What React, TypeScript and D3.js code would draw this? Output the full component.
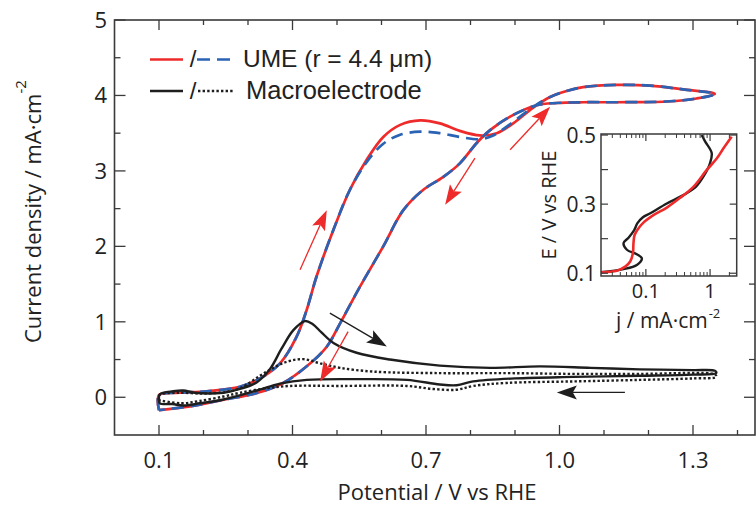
import React from 'react';
import * as d3 from 'd3';

const W = 756;
const H = 506;

// ---------- data (V vs RHE, mA/cm^2) ----------
const umeSolid: [number, number][] = [
  [0.100, -0.17], [0.100, 0.03], [0.147, 0.06], [0.207, 0.08], [0.282, 0.14], [0.327, 0.25],
  [0.372, 0.45], [0.409, 0.80], [0.432, 1.16], [0.454, 1.60], [0.492, 2.22], [0.529, 2.75],
  [0.567, 3.15], [0.604, 3.45], [0.642, 3.61], [0.687, 3.67], [0.731, 3.63], [0.776, 3.53],
  [0.821, 3.47], [0.859, 3.50], [0.896, 3.63], [0.941, 3.84], [0.979, 3.98], [1.016, 4.06],
  [1.053, 4.11], [1.128, 4.14], [1.203, 4.13], [1.278, 4.08], [1.349, 4.02],
  [1.308, 3.96], [1.241, 3.92], [1.128, 3.91], [1.053, 3.91], [0.994, 3.90], [0.949, 3.87],
  [0.889, 3.72], [0.844, 3.54], [0.814, 3.37], [0.776, 3.10], [0.739, 2.92], [0.694, 2.75],
  [0.649, 2.48], [0.604, 2.00], [0.552, 1.47], [0.507, 0.98], [0.477, 0.67], [0.432, 0.41],
  [0.379, 0.19], [0.320, 0.056], [0.245, -0.033], [0.170, -0.12], [0.100, -0.17],
];

const umeDashed: [number, number][] = [
  [0.100, -0.17], [0.100, 0.03], [0.147, 0.06], [0.207, 0.08], [0.282, 0.14], [0.327, 0.25],
  [0.372, 0.45], [0.409, 0.80], [0.432, 1.16], [0.454, 1.60], [0.492, 2.22], [0.529, 2.75],
  [0.567, 3.12], [0.604, 3.36], [0.642, 3.48], [0.687, 3.52], [0.731, 3.50], [0.776, 3.45],
  [0.821, 3.42], [0.851, 3.47], [0.896, 3.65], [0.941, 3.85], [0.979, 3.98], [1.016, 4.06],
  [1.053, 4.11], [1.128, 4.14], [1.203, 4.13], [1.278, 4.08], [1.349, 4.02],
  [1.308, 3.96], [1.241, 3.92], [1.128, 3.91], [1.053, 3.91], [0.994, 3.90], [0.949, 3.87],
  [0.889, 3.72], [0.844, 3.54], [0.814, 3.37], [0.776, 3.10], [0.739, 2.92], [0.694, 2.75],
  [0.649, 2.48], [0.604, 2.00], [0.552, 1.47], [0.507, 0.98], [0.477, 0.67], [0.432, 0.41],
  [0.379, 0.19], [0.320, 0.056], [0.245, -0.033], [0.170, -0.12], [0.100, -0.17],
];

const macroSolid: [number, number][] = [
  [0.100, -0.03], [0.102, 0.04], [0.132, 0.08], [0.155, 0.09], [0.180, 0.06], [0.245, 0.06],
  [0.282, 0.11], [0.320, 0.20], [0.350, 0.38], [0.375, 0.64], [0.402, 0.89], [0.428, 1.01],
  [0.445, 0.97], [0.465, 0.86], [0.492, 0.72], [0.544, 0.59], [0.619, 0.50], [0.731, 0.42],
  [0.844, 0.39], [0.956, 0.41], [1.070, 0.39], [1.180, 0.37], [1.300, 0.36], [1.350, 0.35],
  [1.352, 0.32], [1.300, 0.30], [1.180, 0.285], [1.030, 0.27], [0.900, 0.25], [0.806, 0.21],
  [0.769, 0.16], [0.731, 0.17], [0.657, 0.23], [0.544, 0.24], [0.432, 0.23], [0.372, 0.18],
  [0.320, 0.09], [0.245, -0.03], [0.192, -0.08], [0.155, -0.11], [0.130, -0.09], [0.102, -0.08],
  [0.100, -0.03],
];

const macroDotted: [number, number][] = [
  [0.100, -0.04], [0.101, 0.03], [0.140, 0.06], [0.200, 0.05], [0.250, 0.07], [0.282, 0.12],
  [0.342, 0.34], [0.387, 0.47], [0.424, 0.505], [0.462, 0.45], [0.507, 0.39], [0.582, 0.34],
  [0.731, 0.32], [0.881, 0.32], [1.030, 0.31], [1.180, 0.31], [1.350, 0.30],
  [1.352, 0.27], [1.300, 0.25], [1.180, 0.23], [1.030, 0.21], [0.881, 0.19], [0.806, 0.15],
  [0.769, 0.10], [0.716, 0.11], [0.657, 0.15], [0.507, 0.15], [0.394, 0.15], [0.342, 0.12],
  [0.282, 0.06], [0.245, 0.01], [0.190, -0.05], [0.150, -0.08], [0.100, -0.04],
];

// inset: [j (mA/cm^2), E (V vs RHE)]
const insetUME: [number, number][] = [
  [0.0202, 0.103], [0.0354, 0.1075], [0.0477, 0.119], [0.057, 0.134], [0.0628, 0.158],
  [0.0641, 0.187], [0.0665, 0.21], [0.0740, 0.226], [0.090, 0.245], [0.131, 0.268],
  [0.212, 0.29], [0.34, 0.318], [0.55, 0.35], [0.889, 0.399], [1.27, 0.432], [1.61, 0.461],
  [2.17, 0.495],
];

const insetMacro: [number, number][] = [
  [0.020, 0.103], [0.0449, 0.112], [0.0724, 0.124], [0.0866, 0.143], [0.072, 0.155],
  [0.0506, 0.168], [0.0449, 0.187], [0.0537, 0.203], [0.0658, 0.225], [0.0740, 0.245],
  [0.090, 0.262], [0.117, 0.2735], [0.212, 0.302], [0.384, 0.326], [0.60, 0.35],
  [0.79, 0.38], [1.0, 0.419], [1.06, 0.448], [0.84, 0.481], [0.74, 0.5],
];

// ticks
const xMajorTicks = [0.1, 0.4, 0.7, 1.0, 1.3];
const xTickLabels = ['0.1', '0.4', '0.7', '1.0', '1.3'];
const xMinorTicks = [0.2, 0.3, 0.5, 0.6, 0.8, 0.9, 1.1, 1.2, 1.4];
const yMajorTicks = [0, 1, 2, 3, 4, 5];
const yTickLabels = ['0', '1', '2', '3', '4', '5'];
const yMinorTicks = [0.5, 1.5, 2.5, 3.5, 4.5];

const insetXMajor = [0.1, 1];
const insetXLabels = ['0.1', '1'];
const insetXMinor = [0.03, 0.04, 0.05, 0.06, 0.07, 0.08, 0.09, 0.2, 0.3, 0.4, 0.5, 0.6, 0.7, 0.8, 0.9, 2];
const insetYTicks = [0.1, 0.2, 0.3, 0.4, 0.5];
const insetYLabelVals = [0.1, 0.3, 0.5];
const insetYLabels = ['0.1', '0.3', '0.5'];

// arrows [from, to] in data coords
const redArrows: [[number, number], [number, number]][] = [
  [[0.417, 1.69], [0.477, 2.48]],
  [[0.889, 3.28], [0.979, 3.85]],
  [[0.810, 3.17], [0.743, 2.55]],
  [[0.525, 0.87], [0.462, 0.21]],
];
const blackArrows: [[number, number], [number, number]][] = [
  [[0.484, 1.115], [0.612, 0.673]],
  [[1.147, 0.064], [0.994, 0.064]],
];

const RED = '#ee2a2a';
const BLUE = '#2a62b4';
const BLACK = '#1e1e1e';
const FRAME = '#3a3a3a';
const SANS = "'Open Sans', 'Noto Sans', sans-serif";
const LEG = "'Liberation Sans', Arial, sans-serif";

function Arrow({ x1, y1, x2, y2, color }: { x1: number; y1: number; x2: number; y2: number; color: string }) {
  const dx = x2 - x1;
  const dy = y2 - y1;
  const len = Math.hypot(dx, dy);
  const ux = dx / len;
  const uy = dy / len;
  const hl = 20;
  const hw = 7;
  const bx = x2 - ux * hl;
  const by = y2 - uy * hl;
  const px = -uy;
  const py = ux;
  const pts = `${x2},${y2} ${bx + px * hw},${by + py * hw} ${bx + ux * 4},${by + uy * 4} ${bx - px * hw},${by - py * hw}`;
  return (
    <g>
      <line x1={x1} y1={y1} x2={bx + ux * 4} y2={by + uy * 4} stroke={color} strokeWidth={1.3} />
      <polygon points={pts} fill={color} />
    </g>
  );
}

export default function App() {
  const L = 114.5, R = 755, T = 20, B = 435;
  const x = d3.scaleLinear().domain([0, 1.44]).range([L, L + 1.44 * 445]);
  const y = d3.scaleLinear().domain([-0.5, 5]).range([B, T]);

  const line = d3
    .line<[number, number]>()
    .x((d) => x(d[0]))
    .y((d) => y(d[1]))
    .curve(d3.curveCatmullRom.alpha(0.5));

  // inset
  const iL = 601, iR = 736.7, iT = 134, iB = 276;
  const ix = d3.scaleLog().domain([0.02, 2.6]).range([iL, iR]);
  const iy = d3.scaleLinear().domain([0.092, 0.503]).range([iB, iT]);
  const iline = d3
    .line<[number, number]>()
    .x((d) => ix(d[0]))
    .y((d) => iy(d[1]))
    .curve(d3.curveCatmullRom.alpha(0.5));

  return (
    <svg
      width={W}
      height={H}
      style={{ position: 'absolute', left: 0, top: 0, background: '#fff' }}
      xmlns="http://www.w3.org/2000/svg"
    >
      <rect x={0} y={0} width={W} height={H} fill="#fff" />

      {/* curves */}
      <path d={line(umeSolid) || ''} fill="none" stroke={RED} strokeWidth={2.7} strokeLinejoin="round" />
      <path d={line(umeDashed) || ''} fill="none" stroke={BLUE} strokeWidth={2.7} strokeDasharray="12,7" />
      <path d={line(macroSolid) || ''} fill="none" stroke={BLACK} strokeWidth={2.4} strokeLinejoin="round" />
      <path d={line(macroDotted) || ''} fill="none" stroke={BLACK} strokeWidth={2.4} strokeDasharray="2.4,2.2" />

      {/* arrows */}
      {redArrows.map((a, i) => (
        <Arrow key={'r' + i} x1={x(a[0][0])} y1={y(a[0][1])} x2={x(a[1][0])} y2={y(a[1][1])} color={RED} />
      ))}
      {blackArrows.map((a, i) => (
        <Arrow key={'b' + i} x1={x(a[0][0])} y1={y(a[0][1])} x2={x(a[1][0])} y2={y(a[1][1])} color={BLACK} />
      ))}

      {/* frame */}
      <rect x={L} y={T} width={R - L} height={B - T} fill="none" stroke={FRAME} strokeWidth={1.6} />

      {/* x ticks */}
      {xMajorTicks.map((v) => (
        <g key={'xM' + v}>
          <line x1={x(v)} x2={x(v)} y1={B} y2={B - 10} stroke={FRAME} strokeWidth={1.3} />
          <line x1={x(v)} x2={x(v)} y1={T} y2={T + 10} stroke={FRAME} strokeWidth={1.3} />
        </g>
      ))}
      {xMinorTicks.map((v) => (
        <g key={'xm' + v}>
          <line x1={x(v)} x2={x(v)} y1={B} y2={B - 5} stroke={FRAME} strokeWidth={1.3} />
          <line x1={x(v)} x2={x(v)} y1={T} y2={T + 5} stroke={FRAME} strokeWidth={1.3} />
        </g>
      ))}
      {xMajorTicks.map((v, i) => (
        <text key={'xl' + v} x={x(v)} y={468} textAnchor="middle" fontFamily={SANS} fontSize={22} fill="#222">
          {xTickLabels[i]}
        </text>
      ))}

      {/* y ticks */}
      {yMajorTicks.map((v) => (
        <g key={'yM' + v}>
          <line x1={L} x2={L + 11} y1={y(v)} y2={y(v)} stroke={FRAME} strokeWidth={1.3} />
          <line x1={R} x2={R - 11} y1={y(v)} y2={y(v)} stroke={FRAME} strokeWidth={1.3} />
        </g>
      ))}
      {yMinorTicks.map((v) => (
        <g key={'ym' + v}>
          <line x1={L} x2={L + 6} y1={y(v)} y2={y(v)} stroke={FRAME} strokeWidth={1.3} />
          <line x1={R} x2={R - 6} y1={y(v)} y2={y(v)} stroke={FRAME} strokeWidth={1.3} />
        </g>
      ))}
      {yMajorTicks.map((v, i) => (
        <text key={'yl' + v} x={107} y={y(v)} dy="0.36em" textAnchor="end" fontFamily={SANS} fontSize={22} fill="#222">
          {yTickLabels[i]}
        </text>
      ))}

      {/* axis titles */}
      <text x={437} y={500} textAnchor="middle" fontFamily={SANS} fontSize={22} fill="#222">
        Potential / V vs RHE
      </text>
      <text transform="translate(41,343) rotate(-90)" fontFamily={SANS} fontSize={22} fill="#222">
        Current density / mA·cm
        <tspan dy={-15} fontSize={15}>-2</tspan>
      </text>

      {/* legend */}
      <line x1={150} x2={183} y1={59.5} y2={59.5} stroke={RED} strokeWidth={2.7} />
      <text x={193} y={67} textAnchor="middle" fontFamily={LEG} fontSize={24} fill="#222">/</text>
      <line x1={197} x2={231} y1={59.5} y2={59.5} stroke={BLUE} strokeWidth={2.7} strokeDasharray="13,7" />
      <text x={243} y={67} fontFamily={LEG} fontSize={24.5} fill="#222">UME (r = 4.4 μm)</text>

      <line x1={150} x2={183} y1={91} y2={91} stroke={BLACK} strokeWidth={2.4} />
      <text x={193} y={98.5} textAnchor="middle" fontFamily={LEG} fontSize={24} fill="#222">/</text>
      <line x1={198} x2={234} y1={91} y2={91} stroke={BLACK} strokeWidth={2.4} strokeDasharray="2.4,2.2" />
      <text x={246} y={98.5} fontFamily={LEG} fontSize={25.5} fill="#222">Macroelectrode</text>

      {/* inset */}
      <rect x={iL} y={iT} width={iR - iL} height={iB - iT} fill="#fff" stroke="none" />
      <path d={iline(insetMacro) || ''} fill="none" stroke={BLACK} strokeWidth={2.4} strokeLinejoin="round" />
      <path d={iline(insetUME) || ''} fill="none" stroke={RED} strokeWidth={2.6} strokeLinejoin="round" />
      <rect x={iL} y={iT} width={iR - iL} height={iB - iT} fill="none" stroke={FRAME} strokeWidth={1.5} />
      {insetXMajor.map((v) => (
        <g key={'ixM' + v}>
          <line x1={ix(v)} x2={ix(v)} y1={iB} y2={iB - 7} stroke={FRAME} strokeWidth={1.2} />
          <line x1={ix(v)} x2={ix(v)} y1={iT} y2={iT + 7} stroke={FRAME} strokeWidth={1.2} />
        </g>
      ))}
      {insetXMinor.map((v) => (
        <g key={'ixm' + v}>
          <line x1={ix(v)} x2={ix(v)} y1={iB} y2={iB - 4} stroke={FRAME} strokeWidth={1} />
          <line x1={ix(v)} x2={ix(v)} y1={iT} y2={iT + 4} stroke={FRAME} strokeWidth={1} />
        </g>
      ))}
      {insetYTicks.map((v) => (
        <g key={'iy' + v}>
          <line x1={iL} x2={iL + 7} y1={iy(v)} y2={iy(v)} stroke={FRAME} strokeWidth={1.2} />
          <line x1={iR} x2={iR - 7} y1={iy(v)} y2={iy(v)} stroke={FRAME} strokeWidth={1.2} />
        </g>
      ))}
      {insetXMajor.map((v, i) => (
        <text key={'ixl' + v} x={ix(v)} y={298} textAnchor="middle" fontFamily={SANS} fontSize={20} fill="#222">
          {insetXLabels[i]}
        </text>
      ))}
      {insetYLabelVals.map((v, i) => (
        <text key={'iyl' + v} x={596} y={iy(v)} dy="0.36em" textAnchor="end" fontFamily={SANS} fontSize={21} fill="#222">
          {insetYLabels[i]}
        </text>
      ))}
      <text x={616} y={328} fontFamily={SANS} fontSize={21} fill="#222">
        j / mA·cm
        <tspan dx={1} dy={-10} fontSize={13}>-2</tspan>
      </text>
      <text transform="translate(556,205) rotate(-90)" textAnchor="middle" fontFamily={SANS} fontSize={20} fill="#222">
        E / V vs RHE
      </text>
    </svg>
  );
}
